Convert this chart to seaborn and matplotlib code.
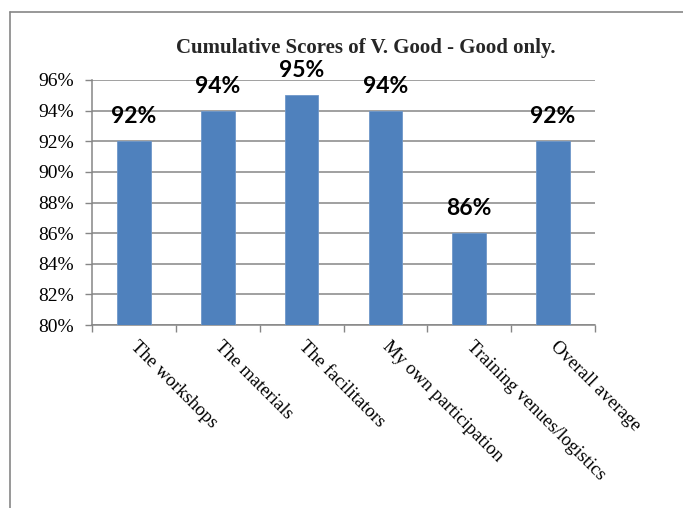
import matplotlib
matplotlib.use("Agg")
import matplotlib.pyplot as plt
from matplotlib.lines import Line2D
from matplotlib.ticker import FixedLocator
from matplotlib.transforms import ScaledTranslation
import seaborn as sns
import pandas as pd

categories = ["The workshops", "The materials", "The facilitators",
              "My own participation", "Training venues/logistics", "Overall average"]
scores = [92, 94, 95, 94, 86, 92]
y_ticks = [80, 82, 84, 86, 88, 90, 92, 94, 96]

sns.set_theme(style="white")
plt.rcParams["font.family"] = ["Liberation Serif", "DejaVu Serif"]

grid_col = "#868686"
bar_col = "#4F81BD"

df = pd.DataFrame({"item": categories, "score": scores})

fig = plt.figure(figsize=(6.83, 5.08), dpi=100)
ax = fig.add_axes([92 / 683, 1 - 325 / 508, (595 - 92) / 683, (325 - 80) / 508])

sns.barplot(data=df, x="item", y="score", color=bar_col, width=0.4,
            saturation=1, ax=ax, edgecolor="#6F97C9", linewidth=0.6, zorder=3)

ax.set_ylim(80, 96)
ax.set_xlim(-0.5, len(categories) - 0.5)
ax.set_yticks(y_ticks)
ax.set_yticklabels([f"{v}%" for v in y_ticks], fontsize=14, color="black")
ax.yaxis.grid(True, color=grid_col, linewidth=1.1, zorder=0)
ax.set_axisbelow(True)
ax.tick_params(axis="y", length=5, width=1, color=grid_col, pad=8, left=True)

# category labels start under each bar, boundary ticks between categories
ax.set_xticks(range(len(categories)))
ax.set_xticklabels(categories, rotation=-45, ha="left", va="top",
                   rotation_mode="anchor", fontsize=13.5, color="black")
ax.tick_params(axis="x", which="major", length=0, pad=9)
shift = ScaledTranslation(4 / 72, 0, fig.dpi_scale_trans)
for lbl in ax.get_xticklabels():
    lbl.set_transform(lbl.get_transform() + shift)
ax.xaxis.set_minor_locator(FixedLocator([i - 0.5 for i in range(len(categories) + 1)]))
ax.tick_params(axis="x", which="minor", length=5, width=1, color=grid_col, bottom=True)

ax.set_xlabel("")
ax.set_ylabel("")
for side in ["top", "right"]:
    ax.spines[side].set_visible(False)
for side in ["left", "bottom"]:
    ax.spines[side].set_color(grid_col)
    ax.spines[side].set_linewidth(1.1)

for container in ax.containers:
    ax.bar_label(container, labels=[f"{v}%" for v in scores], padding=10,
                 fontsize=16.5, fontweight="bold", family="Lato", color="black")

fig.text(366 / 683, 1 - 48 / 508, "Cumulative Scores of V. Good - Good only.",
         ha="center", va="center", fontsize=15, fontweight="bold")

# outer chart frame
fig.add_artist(Line2D([10 / 683, 1.0], [1 - 12 / 508, 1 - 12 / 508],
                      color=grid_col, linewidth=1.2, transform=fig.transFigure))
fig.add_artist(Line2D([10 / 683, 10 / 683], [0.0, 1 - 12 / 508],
                      color=grid_col, linewidth=1.2, transform=fig.transFigure))

fig.savefig("out.png", dpi=100)
